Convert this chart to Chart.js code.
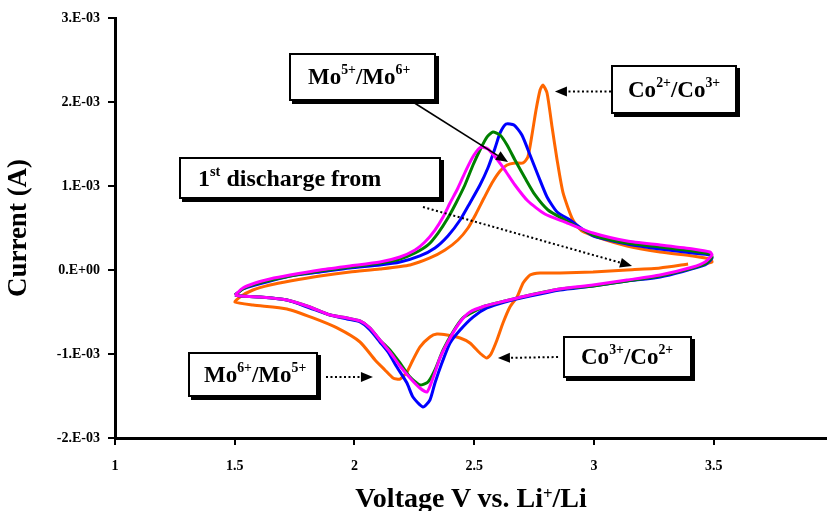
<!DOCTYPE html>
<html><head><meta charset="utf-8">
<script src="https://cdn.jsdelivr.net/npm/chart.js@4/dist/chart.umd.min.js"></script>
<style>
html,body{margin:0;padding:0;background:#fff;overflow:hidden}
#wrap{position:relative;width:827px;height:511px}
canvas{position:absolute;left:0;top:0}
.box{position:absolute;background:#fff;border:2px solid #000;box-shadow:3px 3px 0 #000;box-sizing:border-box;font:bold 23px "Liberation Serif","Times New Roman",serif;color:#000;display:flex;align-items:center;white-space:nowrap}
sup{font-size:0.6em;position:relative;top:-0.5em;vertical-align:baseline;line-height:0}
#xtitle{position:absolute;left:115px;width:712px;top:483px;text-align:center;font:bold 28px "Liberation Serif","Times New Roman",serif;color:#000;line-height:30px}
</style></head>
<body>
<div id="wrap">
<canvas id="c" width="827" height="511"></canvas>
<div class="box" style="left:289px;top:53px;width:147px;height:48px;padding-left:17px">Mo<sup>5+</sup>/Mo<sup>6+</sup></div>
<div class="box" style="left:611px;top:65px;width:126px;height:49px;padding-left:15px">Co<sup>2+</sup>/Co<sup>3+</sup></div>
<div class="box" style="left:179px;top:157px;width:262px;height:42px;padding-left:17px;font-size:24px">1<sup>st</sup>&nbsp;discharge from</div>
<div class="box" style="left:188px;top:352px;width:130px;height:45px;padding-left:14px">Mo<sup>6+</sup>/Mo<sup>5+</sup></div>
<div class="box" style="left:563px;top:336px;width:129px;height:42px;padding-left:16px">Co<sup>3+</sup>/Co<sup>2+</sup></div>
<div id="xtitle">Voltage V vs. Li<sup>+</sup>/Li</div>
</div>
<script>
// ---- data (voltage in V, current in A) ----
const xTickLabels = ['1','1.5','2','2.5','3','3.5'];
const yTickLabels = ['-2.E-03','-1.E-03','0.E+00','1.E-03','2.E-03','3.E-03'];

const orangeV = [3.393,3.276,3.138,2.996,2.858,2.775,2.733,2.704,2.679,2.649,2.620,2.595,2.570,2.553,2.528,2.482,2.441,2.386,2.344,2.315,2.273,2.244,2.219,2.190,2.161,2.127,2.086,2.023,1.927,1.827,1.718,1.576,1.501,
 1.522,1.576,1.647,1.731,1.856,1.981,2.106,2.232,2.315,2.378,2.432,2.474,2.507,2.541,2.574,2.608,2.637,2.670,2.704,2.724,2.741,2.758,2.775,2.787,2.804,2.825,2.846,2.871,2.912,2.950,3.025,3.138,3.276,3.413,3.484,3.493,3.443];
const orangeI = [0.071e-3,0.024e-3,0,-0.024e-3,-0.036e-3,-0.036e-3,-0.060e-3,-0.155e-3,-0.321e-3,-0.440e-3,-0.631e-3,-0.833e-3,-1.000e-3,-1.048e-3,-1.000e-3,-0.869e-3,-0.810e-3,-0.774e-3,-0.762e-3,-0.798e-3,-0.917e-3,-1.071e-3,-1.214e-3,-1.298e-3,-1.286e-3,-1.190e-3,-1.071e-3,-0.857e-3,-0.690e-3,-0.571e-3,-0.464e-3,-0.417e-3,-0.381e-3,
 -0.321e-3,-0.238e-3,-0.179e-3,-0.131e-3,-0.071e-3,-0.024e-3,0.012e-3,0.060e-3,0.143e-3,0.238e-3,0.357e-3,0.500e-3,0.667e-3,0.857e-3,1.036e-3,1.179e-3,1.250e-3,1.274e-3,1.274e-3,1.345e-3,1.607e-3,1.905e-3,2.143e-3,2.202e-3,2.107e-3,1.702e-3,1.310e-3,0.917e-3,0.595e-3,0.464e-3,0.381e-3,0.286e-3,0.214e-3,0.167e-3,0.131e-3,0.095e-3,0.060e-3];

const blueV = [1.501,1.534,1.585,1.731,1.856,1.981,2.106,2.190,2.273,2.336,2.390,2.441,2.482,2.524,2.557,2.587,2.608,2.633,2.666,2.699,2.733,2.766,2.804,2.846,2.900,2.996,3.138,3.276,3.413,3.484,3.493,
 3.464,3.276,3.138,2.996,2.858,2.733,2.628,2.553,2.495,2.441,2.399,2.365,2.336,2.315,2.286,2.244,2.219,2.177,2.140,2.106,2.065,2.023,1.969,1.898,1.814,1.718,1.605,1.522,1.501];
const blueI = [-0.298e-3,-0.226e-3,-0.179e-3,-0.071e-3,-0.024e-3,0.024e-3,0.060e-3,0.095e-3,0.167e-3,0.262e-3,0.405e-3,0.595e-3,0.798e-3,1.012e-3,1.214e-3,1.452e-3,1.631e-3,1.738e-3,1.726e-3,1.607e-3,1.369e-3,1.131e-3,0.869e-3,0.690e-3,0.595e-3,0.405e-3,0.310e-3,0.250e-3,0.202e-3,0.179e-3,0.143e-3,
 0.060e-3,-0.083e-3,-0.131e-3,-0.190e-3,-0.238e-3,-0.310e-3,-0.381e-3,-0.452e-3,-0.560e-3,-0.714e-3,-0.869e-3,-1.107e-3,-1.345e-3,-1.548e-3,-1.631e-3,-1.512e-3,-1.345e-3,-1.155e-3,-0.976e-3,-0.857e-3,-0.714e-3,-0.619e-3,-0.583e-3,-0.536e-3,-0.452e-3,-0.357e-3,-0.321e-3,-0.310e-3,-0.298e-3];

const greenV = [1.501,1.534,1.585,1.731,1.856,1.981,2.106,2.190,2.253,2.307,2.349,2.390,2.424,2.461,2.495,2.528,2.553,2.578,2.608,2.637,2.670,2.712,2.754,2.808,2.879,2.996,3.138,3.276,3.413,3.484,3.493,
 3.464,3.413,3.276,3.138,2.996,2.858,2.733,2.628,2.545,2.511,2.453,2.411,2.370,2.336,2.307,2.273,2.232,2.190,2.148,2.106,2.065,2.023,1.969,1.898,1.814,1.718,1.605,1.522,1.501];
const greenI = [-0.298e-3,-0.226e-3,-0.167e-3,-0.071e-3,-0.012e-3,0.036e-3,0.083e-3,0.131e-3,0.202e-3,0.298e-3,0.440e-3,0.619e-3,0.798e-3,1.012e-3,1.250e-3,1.452e-3,1.583e-3,1.643e-3,1.607e-3,1.488e-3,1.310e-3,1.095e-3,0.893e-3,0.714e-3,0.595e-3,0.417e-3,0.321e-3,0.274e-3,0.226e-3,0.190e-3,0.155e-3,
 0.071e-3,0.024e-3,-0.071e-3,-0.131e-3,-0.190e-3,-0.226e-3,-0.298e-3,-0.369e-3,-0.429e-3,-0.476e-3,-0.571e-3,-0.738e-3,-0.952e-3,-1.190e-3,-1.333e-3,-1.369e-3,-1.274e-3,-1.107e-3,-0.952e-3,-0.833e-3,-0.690e-3,-0.607e-3,-0.571e-3,-0.536e-3,-0.440e-3,-0.357e-3,-0.321e-3,-0.310e-3,-0.298e-3];

const magentaV = [1.501,1.534,1.585,1.647,1.731,1.856,1.981,2.106,2.190,2.253,2.294,2.336,2.370,2.399,2.432,2.466,2.499,2.528,2.557,2.591,2.628,2.670,2.724,2.795,2.879,2.996,3.138,3.276,3.413,3.484,3.493,
 3.464,3.413,3.276,3.138,2.996,2.858,2.733,2.628,2.545,2.482,2.441,2.399,2.357,2.328,2.303,2.273,2.232,2.190,2.148,2.106,2.065,2.023,1.969,1.898,1.814,1.718,1.605,1.522,1.501];
const magentaI = [-0.298e-3,-0.214e-3,-0.155e-3,-0.107e-3,-0.060e-3,0,0.048e-3,0.095e-3,0.155e-3,0.238e-3,0.333e-3,0.476e-3,0.631e-3,0.798e-3,0.976e-3,1.190e-3,1.369e-3,1.464e-3,1.440e-3,1.333e-3,1.190e-3,1.012e-3,0.821e-3,0.667e-3,0.571e-3,0.440e-3,0.345e-3,0.298e-3,0.250e-3,0.214e-3,0.179e-3,
 0.095e-3,0.036e-3,-0.060e-3,-0.119e-3,-0.179e-3,-0.226e-3,-0.298e-3,-0.369e-3,-0.429e-3,-0.500e-3,-0.619e-3,-0.810e-3,-1.048e-3,-1.286e-3,-1.452e-3,-1.405e-3,-1.286e-3,-1.143e-3,-0.976e-3,-0.833e-3,-0.690e-3,-0.607e-3,-0.571e-3,-0.536e-3,-0.440e-3,-0.357e-3,-0.321e-3,-0.310e-3,-0.298e-3];

// annotation arrows (data coordinates)
const arrowFromV = [2.244, 3.071, 2.286, 1.881, 2.850];
const arrowFromI = [2.000e-3, 2.125e-3, 0.750e-3, -1.274e-3, -1.036e-3];
const arrowToV   = [2.641, 2.837, 3.159, 2.077, 2.599];
const arrowToI   = [1.286e-3, 2.125e-3, 0.048e-3, -1.274e-3, -1.048e-3];
const arrowDotted = [false, true, true, true, true];

function pts(V, I){ const n=Math.min(V.length,I.length); const out=[]; for(let i=0;i<n;i++) out.push({x:V[i], y:I[i]}); return out; }

const arrowPlugin = {
  id:'arrows',
  afterDatasetsDraw(chart){
    const {ctx, scales:{x, y}} = chart;
    ctx.save();
    for (let k=0;k<arrowFromV.length;k++){
      const x0=x.getPixelForValue(arrowFromV[k]), y0=y.getPixelForValue(arrowFromI[k]);
      const x1=x.getPixelForValue(arrowToV[k]), y1=y.getPixelForValue(arrowToI[k]);
      const a=Math.atan2(y1-y0,x1-x0), hl=12, hw=5;
      const bx=x1-hl*Math.cos(a), by=y1-hl*Math.sin(a);
      ctx.beginPath();
      ctx.setLineDash(arrowDotted[k]?[2,2.5]:[]);
      ctx.lineWidth=arrowDotted[k]?2:1.6;
      ctx.strokeStyle='#000';
      ctx.moveTo(x0,y0); ctx.lineTo(bx,by); ctx.stroke();
      ctx.setLineDash([]);
      ctx.beginPath();
      ctx.moveTo(x1,y1);
      ctx.lineTo(bx+hw*Math.sin(a), by-hw*Math.cos(a));
      ctx.lineTo(bx-hw*Math.sin(a), by+hw*Math.cos(a));
      ctx.closePath(); ctx.fillStyle='#000'; ctx.fill();
    }
    ctx.restore();
  }
};

const tickFont = {family:'Liberation Serif', weight:'bold', size:14};
const mk = (label, V, I, color, order) => ({label, data:pts(V,I), showLine:true, borderColor:color, backgroundColor:color, borderWidth:3, pointRadius:0, tension:0.2, order});

new Chart(document.getElementById('c'), {
  type:'scatter',
  data:{datasets:[
    mk('cycle 1', orangeV, orangeI, '#FF6600', 4),
    mk('cycle 2', blueV, blueI, '#0000FF', 3),
    mk('cycle 3', greenV, greenI, '#008000', 2),
    mk('cycle 4', magentaV, magentaI, '#FF00FF', 1)
  ]},
  options:{
    responsive:false, animation:false, devicePixelRatio:1,
    layout:{padding:{top:18, right:0, left:0, bottom:0}},
    plugins:{legend:{display:false}, tooltip:{enabled:false}},
    scales:{
      x:{type:'linear', min:1, max:3.973,
        afterFit(s){ s.height = 73; },
        ticks:{stepSize:0.5, includeBounds:false, padding:13, color:'#000', font:tickFont, maxRotation:0, autoSkip:false, callback:(v,i)=>xTickLabels[i]},
        grid:{drawOnChartArea:false, drawTicks:true, tickLength:7, color:'#000', lineWidth:2},
        border:{color:'#000', width:3}},
      y:{type:'linear', min:-0.002, max:0.003,
        afterFit(s){ s.width = 115; },
        ticks:{stepSize:0.001, padding:8, color:'#000', font:tickFont, callback:(v,i)=>yTickLabels[i]},
        grid:{drawOnChartArea:false, drawTicks:true, tickLength:7, color:'#000', lineWidth:2},
        border:{color:'#000', width:3},
        title:{display:true, text:'Current (A)', color:'#000', font:{family:'Liberation Serif', weight:'bold', size:27}, padding:{top:3, bottom:0}}}
    }
  },
  plugins:[arrowPlugin]
});
</script>
</body></html>
